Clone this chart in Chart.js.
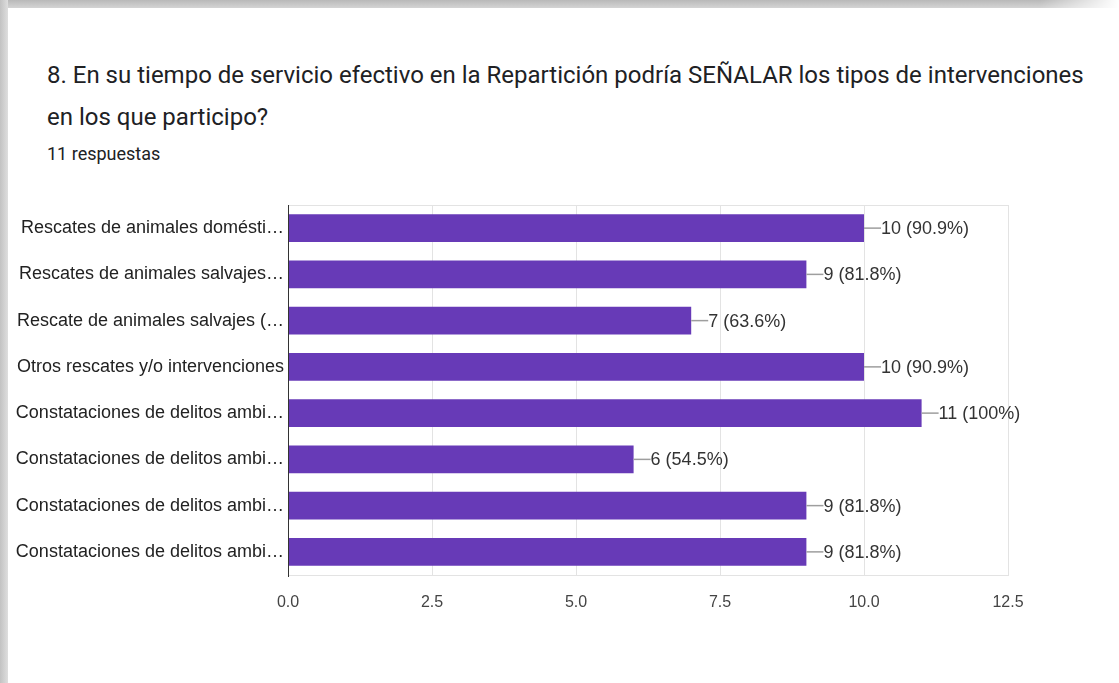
<!DOCTYPE html>
<html>
<head>
<meta charset="utf-8">
<script src="https://cdn.jsdelivr.net/npm/chart.js@4"></script>
<style>
  html, body { margin: 0; padding: 0; background: #fff; }
  #wrap { position: relative; width: 1119px; height: 683px; overflow: hidden; background: #fff; }
  .edgeTop { position: absolute; left: 0; top: 0; width: 1119px; height: 8px;
    background: linear-gradient(to bottom, #b9b9b9, #d4d4d4);
    -webkit-mask-image: linear-gradient(to right, #000 93%, transparent 100%); }
  .edgeLeft { position: absolute; left: 0; top: 0; width: 8px; height: 683px;
    background: linear-gradient(to right, #c2c2c2, #dedede); }
  .title { position: absolute; left: 47px; top: 54px; font-family: Roboto, sans-serif;
    font-size: 24px; line-height: 42px; color: #202124; white-space: nowrap; }
  .sub { position: absolute; left: 47px; top: 143px; font-family: Roboto, sans-serif;
    font-size: 18px; color: #202124; }
  canvas { position: absolute; left: 0; top: 0; }
</style>
</head>
<body>
<div id="wrap">
  <div class="edgeTop"></div>
  <div class="edgeLeft"></div>
  <div class="title">8. En su tiempo de servicio efectivo en la Repartición podría SEÑALAR los tipos de intervenciones<br>en los que participo?</div>
  <div class="sub">11 respuestas</div>
  <canvas id="chart" width="1119" height="683"></canvas>
</div>
<script>
const categories = [
  'Rescates de animales domésti…',
  'Rescates de animales salvajes…',
  'Rescate de animales salvajes (…',
  'Otros rescates y/o intervenciones',
  'Constataciones de delitos ambi…',
  'Constataciones de delitos ambi…',
  'Constataciones de delitos ambi…',
  'Constataciones de delitos ambi…'
];
const counts = [10, 9, 7, 10, 11, 6, 9, 9];
const percents = ['90.9%', '81.8%', '63.6%', '90.9%', '100%', '54.5%', '81.8%', '81.8%'];
const xTicks = [0, 2.5, 5, 7.5, 10, 12.5];

const plotBorder = {
  id: 'plotBorder',
  beforeDatasetsDraw(chart) {
    const a = chart.chartArea, c = chart.ctx;
    c.save();
    c.strokeStyle = '#e3e3e3';
    c.lineWidth = 1;
    c.strokeRect(a.left + 0.5, a.top + 0.5, a.right - a.left, a.bottom - a.top);
    c.restore();
  },
  afterDatasetsDraw(chart) {
    const a = chart.chartArea, c = chart.ctx;
    c.save();
    c.strokeStyle = '#333';
    c.lineWidth = 1;
    c.beginPath();
    c.moveTo(a.left + 0.5, a.top);
    c.lineTo(a.left + 0.5, a.bottom + 2);
    c.stroke();
    c.restore();
  }
};

const valueLabels = {
  id: 'valueLabels',
  afterDatasetsDraw(chart) {
    const c = chart.ctx;
    const meta = chart.getDatasetMeta(0);
    c.save();
    c.font = '18px "Liberation Sans", Arial, sans-serif';
    c.textBaseline = 'middle';
    c.textAlign = 'left';
    meta.data.forEach((bar, i) => {
      c.strokeStyle = '#9e9e9e';
      c.lineWidth = 1.5;
      c.beginPath();
      c.moveTo(bar.x, bar.y);
      c.lineTo(bar.x + 17, bar.y);
      c.stroke();
      c.fillStyle = '#333';
      c.fillText(counts[i] + ' (' + percents[i] + ')', bar.x + 17, bar.y + 1);
    });
    c.restore();
  }
};

new Chart(document.getElementById('chart').getContext('2d'), {
  type: 'bar',
  data: {
    labels: categories,
    datasets: [{
      data: counts,
      backgroundColor: '#673ab7',
      borderWidth: 0,
      barPercentage: 0.6,
      categoryPercentage: 1.0
    }]
  },
  options: {
    indexAxis: 'y',
    responsive: false,
    animation: false,
    layout: { padding: { top: 205, right: 111, left: 0, bottom: 0 } },
    scales: {
      x: {
        min: 0,
        max: 12.5,
        afterBuildTicks: (s) => { s.ticks = xTicks.map(v => ({ value: v })); },
        afterFit: (s) => { s.height = 108; },
        grid: { color: '#e3e3e3', drawTicks: false },
        border: { display: false },
        ticks: {
          padding: 18,
          color: '#444',
          font: { family: '"Liberation Sans", Arial, sans-serif', size: 16 },
          callback: (v) => Number(v).toFixed(1)
        }
      },
      y: {
        afterFit: (s) => { s.width = 288; },
        grid: { display: false, drawTicks: false },
        border: { display: false },
        ticks: {
          padding: 4,
          color: '#222',
          font: { family: '"Liberation Sans", Arial, sans-serif', size: 18 }
        }
      }
    },
    plugins: {
      legend: { display: false },
      tooltip: { enabled: false }
    }
  },
  plugins: [plotBorder, valueLabels]
});
</script>
</body>
</html>
